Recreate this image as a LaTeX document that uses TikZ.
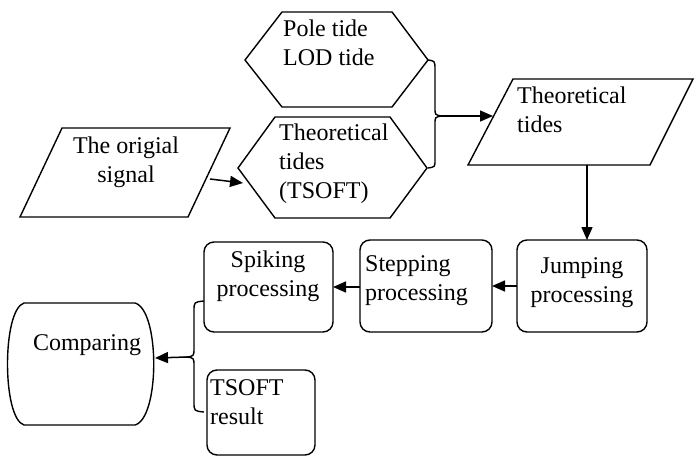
\documentclass[tikz,border=0pt]{standalone}
\usepackage{fontspec}
\setmainfont{Liberation Serif}
\usetikzlibrary{arrows.meta}
\begin{document}
\begin{tikzpicture}[x=1pt,y=-1pt,
  shapeline/.style={draw, line width=1.4pt, line join=miter},
  boxline/.style={draw, line width=1.4pt, rounded corners=10pt},
  braceline/.style={draw, line width=1.4pt},
  txt/.style={inner sep=0pt, font=\fontsize{24}{29}\selectfont},
  arr/.style={draw, line width=1.5pt, -{Triangle[length=13pt,width=11pt]}}]
\useasboundingbox (0,0) rectangle (699,456);

% shapes
\path[shapeline] (245,60) -- (282,12) -- (392,12) -- (428,60) -- (392,107) -- (282,107) -- cycle;
\path[shapeline] (238,168) -- (275,117) -- (390,117) -- (427,168) -- (390,218) -- (275,218) -- cycle;
\path[shapeline] (62,128) -- (230,128) -- (188,217) -- (20,217) -- cycle;
\path[shapeline] (513,79) -- (693,79) -- (650,165) -- (468,165) -- cycle;
\path[boxline] (517,240) rectangle (647,332);
\path[boxline] (360,240) rectangle (492,332);
\path[boxline] (204,242) rectangle (333,332);
\path[boxline] (207,370) rectangle (315,455);
\path[shapeline] (24,303) -- (135,303) .. controls (160,310) and (160,418) .. (135,425) -- (24,425) .. controls (2,418) and (2,310) .. (24,303) -- cycle;

% texts (base anchor = baseline of last line)
\node[txt, anchor=base west, align=left] (pole) at (283,65) {Pole tide\\LOD tide};
\node[txt, anchor=base west, align=left] (tsoftth) at (279,198) {Theoretical\\tides\\(TSOFT)};
\node[txt, anchor=base, align=center] (signal) at (126,182) {The origial\\signal};
\node[txt, anchor=base west, align=left] (theo) at (517,132) {Theoretical\\tides};
\node[txt, anchor=base, align=center] (jump) at (582,302) {Jumping\\processing};
\node[txt, anchor=base west, align=left] (step) at (365,300) {Stepping\\processing};
\node[txt, anchor=base, align=center] (spike) at (268,296) {Spiking\\processing};
\node[txt, anchor=base] (comp) at (87,350) {Comparing};
\node[txt, anchor=base west, align=left] (result) at (210,424) {TSOFT\\result};

% connector points
\coordinate (sigR) at (210,179);
\coordinate (hexL) at (243,183);
\coordinate (braceA) at (442,116);
\coordinate (theoL) at (493,116);
\coordinate (theoB) at (587,165);
\coordinate (jumpT) at (587,240);
\coordinate (jumpL) at (517,286);
\coordinate (stepR) at (492,286);
\coordinate (stepL) at (360,287);
\coordinate (spikeR) at (333,287);
\coordinate (braceB) at (187,357);
\coordinate (compR) at (155,358);

% braces
\path[braceline] (428,60) .. controls (435,61) .. (435,70) -- (435,108) .. controls (435,115) .. (braceA) .. controls (435,117) .. (435,124) -- (435,160) .. controls (435,167) .. (428,168);
\path[braceline] (204,301) .. controls (194,302) .. (194,311) -- (194,348) .. controls (194,356) .. (braceB) .. controls (194,358) .. (194,366) -- (194,402) .. controls (194,411) .. (204,412);

% arrows
\draw[arr] (sigR) -- (hexL);
\draw[arr] (braceA) -- (theoL);
\draw[arr] (theoB) -- (jumpT);
\draw[arr] (jumpL) -- (stepR);
\draw[arr] (stepL) -- (spikeR);
\draw[arr] (braceB) -- (compR);
\end{tikzpicture}
\end{document}
